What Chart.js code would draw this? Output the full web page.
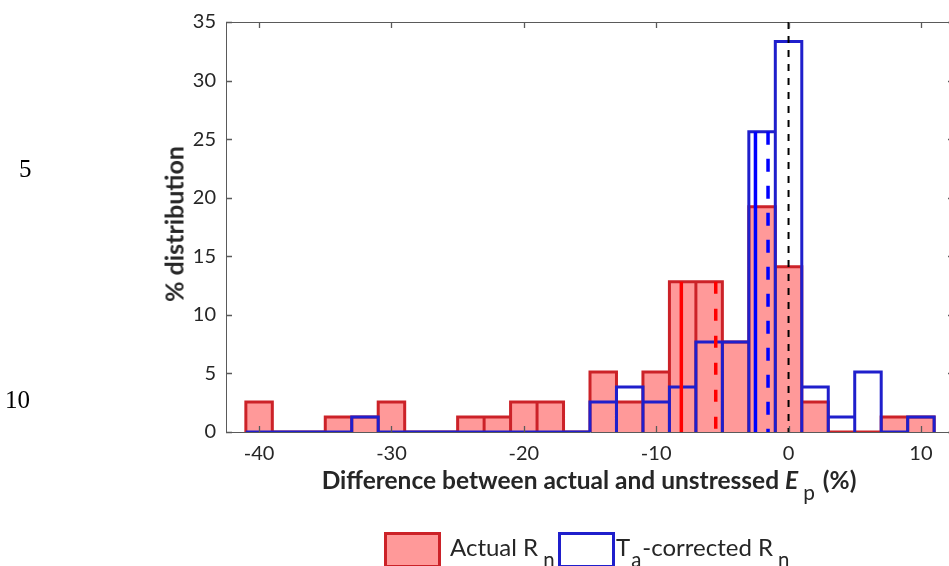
<!DOCTYPE html>
<html>
<head>
<meta charset="utf-8">
<script src="https://cdn.jsdelivr.net/npm/chart.js@4.4.0/dist/chart.umd.min.js"></script>
<style>
  html, body { margin: 0; padding: 0; background: #fff; overflow: hidden; }
  #wrap { position: relative; width: 949px; height: 566px; overflow: hidden; }
  #plot { position: absolute; left: 0; top: 0; }
  .txt { position: absolute; font-family: Lato, sans-serif; color: #262626; white-space: nowrap; line-height: 1; }
  .margin { position: absolute; font-family: "Liberation Serif", serif; font-size: 25px; color: #000; line-height: 1; }
  sub { font-size: 0.85em; font-weight: normal; font-style: normal; vertical-align: -0.55em; margin-left: 5px; margin-right: 2px; }
  sub.tight { margin-left: 1px; margin-right: 1px; }
  .box { position: absolute; width: 51px; height: 30px; border-width: 3px; border-style: solid; }
</style>
</head>
<body>
<div id="wrap">
  <canvas id="plot" width="960" height="566"></canvas>
  <div class="margin" style="left:19px; top:156px;">5</div>
  <div class="margin" style="left:5px; top:387px;">10</div>
  <div class="txt" id="ytitle" style="left:174px; top:224px; font-size:25px; font-weight:bold; transform: translate(-50%, -50%) rotate(-90deg);">% distribution</div>
  <div class="txt" id="xtitle" style="left:589px; top:468px; font-size:24.5px; font-weight:bold; transform: translateX(-50%);">Difference between actual and unstressed <i>E</i><sub>p</sub> (%)</div>
  <div class="box" style="left:384px; top:532px; border-color:#cc2228; background:#ff9999;"></div>
  <div class="txt" style="left:450px; top:535px; font-size:24px;">Actual R<sub>n</sub></div>
  <div class="box" style="left:558px; top:532px; border-color:#1f1fcc; background:#fff;"></div>
  <div class="txt" style="left:616px; top:535px; font-size:24px;">T<sub class="tight">a</sub>-corrected R<sub>n</sub></div>
</div>
<script>
// histogram bins (centre of each 2 %-wide bin)
const binWidth = 2;
const binCenters = [-40, -38, -36, -34, -32, -30, -28, -26, -24, -22, -20, -18, -16,
                    -14, -12, -10, -8, -6, -4, -2, 0, 2, 4, 6, 8, 10];
// % distribution, actual Rn
const actualRn = [2.56, 0, 0, 1.28, 1.28, 2.56, 0, 0, 1.28, 1.28, 2.56, 2.56, 0,
                  5.13, 2.56, 5.13, 12.82, 12.82, 7.69, 19.23, 14.10, 2.56, 0, 0, 1.28, 1.28];
// % distribution, Ta-corrected Rn
const correctedRn = [0, 0, 0, 0, 1.28, 0, 0, 0, 0, 0, 0, 0, 0,
                     2.56, 3.85, 2.56, 3.85, 7.69, 7.69, 25.64, 33.33, 3.85, 1.28, 5.13, 0, 1.28];
// vertical reference lines: position and height
const refX   = [-8.1, -5.5, -2.5, -1.55, 0];
const refTop = [12.82, 12.82, 25.64, 25.64, 35];

const xTicks = [-40, -30, -20, -10, 0, 10];
const yTicks = [0, 5, 10, 15, 20, 25, 30, 35];

const refStyle = [
  { color: '#ff0000', width: 3.5, dash: [] },
  { color: '#ff0000', width: 3.5, dash: [12, 15] },
  { color: '#0000ff', width: 3.5, dash: [] },
  { color: '#0000ff', width: 3.5, dash: [13, 14] },
  { color: '#000000', width: 2, dash: [7, 7] }
];

// outline path of a histogram: each bin as left edge, top, right edge
function outline(values) {
  const pts = [];
  binCenters.forEach((c, i) => {
    const l = c - binWidth / 2, r = c + binWidth / 2;
    pts.push({ x: l, y: 0 }, { x: l, y: values[i] }, { x: r, y: values[i] }, { x: r, y: 0 });
  });
  return pts;
}

const datasets = [];
refX.forEach((x, i) => {
  datasets.push({
    type: 'line',
    data: [{ x: x, y: refTop[i] }, { x: x, y: 0 }],
    borderColor: refStyle[i].color,
    borderWidth: refStyle[i].width,
    borderDash: refStyle[i].dash,
    pointRadius: 0,
    order: 0
  });
});
datasets.push({
  type: 'line',
  data: outline(correctedRn),
  borderColor: '#1f1fcc',
  borderWidth: 3,
  pointRadius: 0,
  tension: 0,
  order: 2
});
datasets.push({
  type: 'line',
  data: outline(actualRn),
  borderColor: '#cc2228',
  borderWidth: 3,
  pointRadius: 0,
  tension: 0,
  order: 3
});
datasets.push({
  type: 'bar',
  data: binCenters.map((c, i) => ({ x: c, y: actualRn[i] })),
  backgroundColor: 'rgba(255, 0, 0, 0.4)',
  borderWidth: 0,
  barPercentage: 1,
  categoryPercentage: 1,
  grouped: false,
  order: 4
});

const axisColor = '#5a5a5a';
const tickMarks = {
  id: 'tickMarks',
  beforeDatasetsDraw(chart) {
    const { ctx, chartArea: a } = chart;
    ctx.save();
    ctx.strokeStyle = axisColor;
    ctx.lineWidth = 1;
    ctx.beginPath();
    ctx.moveTo(a.left, a.top + 0.5);
    ctx.lineTo(a.right, a.top + 0.5);
    ctx.stroke();
    ctx.restore();
  },
  afterDatasetsDraw(chart) {
    const { ctx, chartArea: a, scales } = chart;
    const len = 6;
    ctx.save();
    ctx.strokeStyle = axisColor;
    ctx.lineWidth = 1.3;
    ctx.beginPath();
    xTicks.forEach(v => {
      const px = Math.round(scales.x.getPixelForValue(v)) + 0.5;
      ctx.moveTo(px, a.bottom); ctx.lineTo(px, a.bottom - len);
      ctx.moveTo(px, a.top); ctx.lineTo(px, a.top + len);
    });
    yTicks.forEach(v => {
      const py = Math.round(scales.y.getPixelForValue(v)) + 0.5;
      ctx.moveTo(a.left, py); ctx.lineTo(a.left + len, py);
      ctx.moveTo(a.right, py); ctx.lineTo(a.right - len, py);
    });
    ctx.stroke();
    ctx.restore();
  }
};

new Chart(document.getElementById('plot'), {
  type: 'bar',
  data: { datasets: datasets },
  options: {
    responsive: false,
    animation: false,
    layout: { padding: { left: 0, right: 6, top: 20, bottom: 0 } },
    plugins: { legend: { display: false }, tooltip: { enabled: false } },
    scales: {
      x: {
        type: 'linear',
        offset: false,
        min: -42.5,
        max: 12.5,
        afterBuildTicks: s => { s.ticks = xTicks.map(v => ({ value: v })); },
        afterFit: s => { s.height = 134; },
        grid: { display: false, drawTicks: false, offset: false },
        border: { display: true, color: axisColor, width: 1 },
        ticks: { color: '#262626', padding: 10, font: { family: 'Lato', size: 20 } }
      },
      y: {
        type: 'linear',
        min: 0,
        max: 35,
        afterBuildTicks: s => { s.ticks = yTicks.map(v => ({ value: v })); },
        afterFit: s => { s.width = 226; },
        grid: { display: false, drawTicks: false },
        border: { display: true, color: axisColor, width: 1 },
        ticks: { color: '#262626', padding: 10, font: { family: 'Lato', size: 20 } }
      }
    }
  },
  plugins: [tickMarks]
});
</script>
</body>
</html>
